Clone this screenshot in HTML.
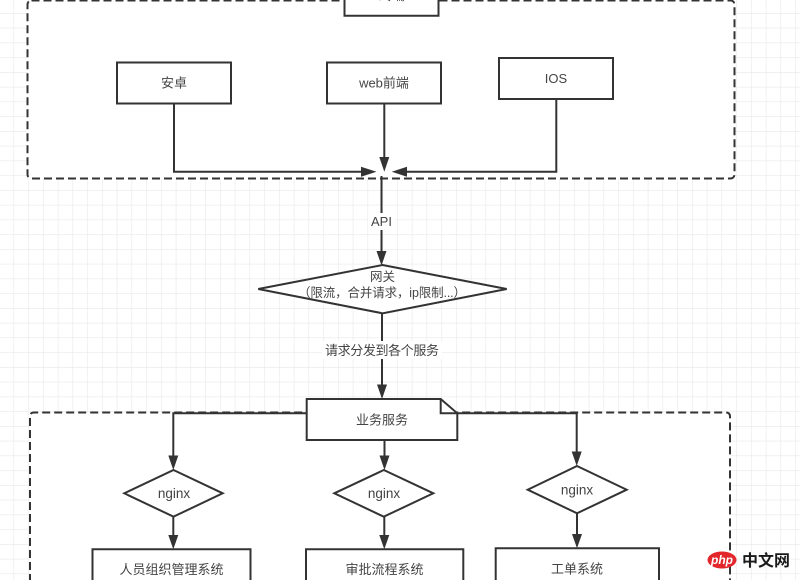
<!DOCTYPE html>
<html><head><meta charset="utf-8"><style>
html,body{margin:0;padding:0;background:#fff;width:800px;height:580px;overflow:hidden;}
svg{display:block;}
text{font-family:"Liberation Sans","Noto Sans CJK SC",sans-serif;fill:#444;}
</style></head><body>
<svg width="800" height="580" viewBox="0 0 800 580" xmlns="http://www.w3.org/2000/svg">
<defs>
<pattern id="g" patternUnits="userSpaceOnUse" x="13.55" y="13" width="14.75" height="14.75">
<path d="M0 0 H14.75 M0 0 V14.75" stroke="#e8e8e8" stroke-width="1.2" fill="none"/>
</pattern>
<clipPath id="c"><rect x="0" y="0" width="800" height="580"/></clipPath>
</defs>
<g clip-path="url(#c)">
<rect width="800" height="580" fill="#fff"/>
<rect width="800" height="580" fill="url(#g)"/>

<!-- top container -->
<rect x="27.5" y="0.5" width="707" height="178" rx="4" fill="#fff" stroke="#333" stroke-width="2" stroke-dasharray="8,4"/>
<!-- bottom container -->
<path d="M30 582 V416.5 Q30 412.5 34 412.5 H726 Q730 412.5 730 416.5 V582" fill="#fff" stroke="#333" stroke-width="2" stroke-dasharray="8,4"/>

<g stroke="#333" stroke-width="2" fill="#fff">
<!-- top partial box -->
<path d="M344.5 -2 V15.7 H438.5 V-2"/>
<!-- 安卓 -->
<rect x="117" y="62.5" width="114" height="41"/>
<!-- web前端 -->
<rect x="327" y="62.5" width="114" height="41"/>
<!-- IOS -->
<rect x="499" y="58" width="114" height="41"/>
</g>
<text x="391.7" y="0" font-size="13" text-anchor="middle">终端</text>
<text x="174" y="87.5" font-size="13" text-anchor="middle">安卓</text>
<text x="384" y="87.5" font-size="13" text-anchor="middle">web前端</text>
<text x="556" y="83" font-size="13" text-anchor="middle">IOS</text>

<!-- connectors top -->
<g stroke="#333" stroke-width="2" fill="none">
<path d="M174 103.5 V171.7 H362"/>
<path d="M384.3 103.5 V158"/>
<path d="M556.3 99 V171.7 H406"/>
<path d="M381.5 176 V252"/>
</g>
<g fill="#333">
<polygon points="361,166.7 361,176.7 376.5,171.7"/>
<polygon points="379.3,157 389.3,157 384.3,171.7"/>
<polygon points="407,166.7 407,176.7 391.7,171.7"/>
<polygon points="376.5,251 386.5,251 381.5,265.5"/>
</g>
<rect x="368" y="213" width="27" height="17" fill="#fff"/>
<text x="381.5" y="226" font-size="13" text-anchor="middle">API</text>

<!-- gateway -->
<polygon points="382.5,265 506.7,289 382.5,313.3 258.3,289" fill="#fff" stroke="#333" stroke-width="2"/>
<text x="382.5" y="281" font-size="12.5" text-anchor="middle">网关</text>
<text x="298" y="297" font-size="12.5" textLength="168" lengthAdjust="spacing">（限流，合并请求，ip限制...）</text>

<path d="M382 313.3 V386" stroke="#333" stroke-width="2" fill="none"/>
<polygon points="377,384.5 387,384.5 382,399" fill="#333"/>
<rect x="322" y="341" width="120" height="18" fill="#fff"/>
<text x="325" y="355" font-size="13" textLength="114" lengthAdjust="spacing">请求分发到各个服务</text>

<!-- connectors bottom -->
<g stroke="#333" stroke-width="2" fill="none">
<path d="M306.7 413.3 H173.3 V457"/>
<path d="M457.3 413.3 H576.7 V453"/>
<path d="M384.5 440 V457"/>
<path d="M173.3 516.7 V536"/>
<path d="M384.3 516.7 V536"/>
<path d="M577 513.3 V535"/>
</g>
<g fill="#333">
<polygon points="168.3,455.5 178.3,455.5 173.3,470"/>
<polygon points="571.7,451.5 581.7,451.5 576.7,466"/>
<polygon points="379.5,455.5 389.5,455.5 384.5,470"/>
<polygon points="168.3,535 178.3,535 173.3,549.3"/>
<polygon points="379.3,535 389.3,535 384.3,549.3"/>
<polygon points="572,534 582,534 577,548.3"/>
</g>

<!-- 业务服务 note -->
<path d="M306.7 399 H440.7 L457.3 413.3 V440 H306.7 Z" fill="#fff" stroke="#333" stroke-width="2"/>
<path d="M440.7 399 V413.3 H457.3" fill="none" stroke="#333" stroke-width="2"/>
<text x="382" y="424.5" font-size="13" text-anchor="middle">业务服务</text>

<!-- nginx diamonds -->
<g fill="#fff" stroke="#333" stroke-width="2">
<polygon points="173.5,470 222.7,493.3 173.5,516.7 124.3,493.3"/>
<polygon points="383.8,470 433.3,493.3 383.8,516.7 334.3,493.3"/>
<polygon points="577,466 626.7,489.7 577,513.3 527.7,489.7"/>
</g>
<text x="174" y="498" font-size="13.5" text-anchor="middle">nginx</text>
<text x="384" y="498" font-size="13.5" text-anchor="middle">nginx</text>
<text x="577" y="494.5" font-size="13.5" text-anchor="middle">nginx</text>

<!-- bottom boxes -->
<g fill="#fff" stroke="#333" stroke-width="2">
<path d="M92.5 582 V549.3 H250.5 V582"/>
<path d="M306 582 V549.3 H463.3 V582"/>
<path d="M495.7 582 V548.3 H659 V582"/>
</g>
<text x="171.5" y="574" font-size="13" text-anchor="middle">人员组织管理系统</text>
<text x="384.5" y="574" font-size="13" text-anchor="middle">审批流程系统</text>
<text x="577" y="573.5" font-size="13" text-anchor="middle">工单系统</text>

<!-- watermark -->
<ellipse cx="722" cy="560" rx="14.5" ry="8.5" fill="#e2262b"/>
<text x="722" y="564" font-size="12" font-style="italic" font-weight="bold" text-anchor="middle" style="fill:#fff">php</text>
<text x="766" y="566" font-size="16" font-weight="bold" text-anchor="middle" style="fill:#1a1a1a">中文网</text>
</g>
</svg>
</body></html>
